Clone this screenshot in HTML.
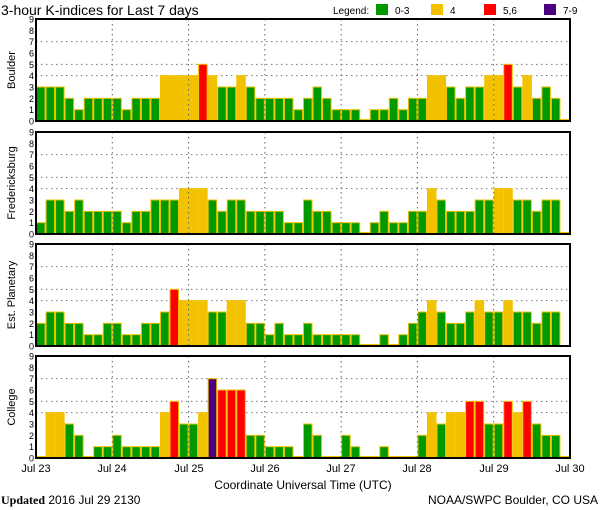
<!DOCTYPE html>
<html><head><meta charset="utf-8"><style>
html,body{margin:0;padding:0;background:#fff}
svg{display:block;font-family:"Liberation Sans",sans-serif}
</style></head><body>
<svg id="s" width="600" height="510" viewBox="0 0 600 510" xmlns="http://www.w3.org/2000/svg">
<rect width="600" height="510" fill="#fff"/>
<text x="1" y="15" font-size="14" fill="#000">3-hour K-indices for Last 7 days</text>
<text x="333" y="14" font-size="10" fill="#000">Legend:</text>
<rect x="376" y="4" width="12" height="11" fill="#009900"/><text x="395" y="14" font-size="10">0-3</text>
<rect x="431" y="4" width="12" height="11" fill="#f2c200"/><text x="450" y="14" font-size="10">4</text>
<rect x="484" y="4" width="12" height="11" fill="#ff0000"/><text x="503" y="14" font-size="10">5,6</text>
<rect x="544" y="4" width="12" height="11" fill="#4b0082"/><text x="563" y="14" font-size="10">7-9</text>
<g id="panels"></g>
<g font-size="9" text-anchor="end" id="yl"></g>
<text transform="translate(15,70) rotate(-90)" font-size="11" text-anchor="middle">Boulder</text>
<text transform="translate(15,183) rotate(-90)" font-size="11" text-anchor="middle">Fredericksburg</text>
<text transform="translate(15,295) rotate(-90)" font-size="11" text-anchor="middle">Est. Planetary</text>
<text transform="translate(15,407) rotate(-90)" font-size="11" text-anchor="middle">College</text>
<g font-size="11" text-anchor="middle">
<text x="36" y="472">Jul 23</text><text x="112" y="472">Jul 24</text><text x="189" y="472">Jul 25</text><text x="265" y="472">Jul 26</text><text x="341" y="472">Jul 27</text><text x="417" y="472">Jul 28</text><text x="494" y="472">Jul 29</text><text x="570" y="472">Jul 30</text>
<text x="303" y="489" font-size="12">Coordinate Universal Time (UTC)</text>
</g>
<text x="1" y="504" font-size="12"><tspan font-weight="bold" font-family="Liberation Serif, serif">Updated</tspan> 2016 Jul 29 2130</text>
<text x="598" y="504" font-size="12" text-anchor="end">NOAA/SWPC Boulder, CO USA</text>
</svg>
<script>
var D={
0:[3,3,3,2,1,2,2,2,2,1,2,2,2,4,4,4,4,5,4,3,3,4,3,2,2,2,2,1,2,3,2,1,1,1,0,1,1,2,1,2,2,4,4,3,2,3,3,4,4,5,3,4,2,3,2,0],
1:[1,3,3,2,3,2,2,2,2,1,2,2,3,3,3,4,4,4,3,2,3,3,2,2,2,2,1,1,3,2,2,1,1,1,0,1,2,1,1,2,2,4,3,2,2,2,3,3,4,4,3,3,2,3,3,0],
2:[2,3,3,2,2,1,1,2,2,1,1,2,2,3,5,4,4,4,3,3,4,4,2,2,1,2,1,1,2,1,1,1,1,1,0,0,1,0,1,2,3,4,3,2,2,3,4,3,3,4,3,3,2,3,3,-1],
3:[0,4,4,3,2,0,1,1,2,1,1,1,1,4,5,3,3,4,7,6,6,6,2,2,1,1,1,0,3,2,0,0,2,1,0,0,1,0,0,0,2,4,3,4,4,5,5,3,3,5,4,5,3,2,2,0]};
var tops=[19,132,244,356],H=102,U=102/9,L=36,R=570,bw=(R-L)/56,ns="http://www.w3.org/2000/svg";
var g=document.getElementById('panels'),yl=document.getElementById('yl');
function el(n,a,p){var e=document.createElementNS(ns,n);for(var k in a)e.setAttribute(k,a[k]);(p||g).appendChild(e);return e;}
function col(v){return v>=7?'#4b0082':v>=5?'#ff0000':v==4?'#f2c200':'#009900';}
for(var p=0;p<4;p++){var t=tops[p],b=t+H;
 [4,5,7].forEach(function(v){var y=b-v*U;el('line',{x1:L,x2:R,y1:y,y2:y,stroke:'#777','stroke-dasharray':'1.5,3.5','stroke-width':1});});
 D[p].forEach(function(v,i){if(v<0)return;var h=Math.max(v*U,1.5);el('rect',{x:L+bw*i+0.5,y:b-h,width:bw-1,height:h,fill:col(v),stroke:'#f2c200','stroke-width':1});});
 for(var d=1;d<7;d++){var x=L+d*(R-L)/7;el('line',{x1:x,x2:x,y1:t,y2:b,stroke:'#666','stroke-dasharray':'1.5,3.5','stroke-width':1});}
 el('rect',{x:L,y:t,width:R-L,height:H,fill:'none',stroke:'#000','stroke-width':2});
 for(var v=0;v<=9;v++){var tx=el('text',{x:34,y:b-v*U+3.5},yl);tx.textContent=v;}
}
</script>
</body></html>
